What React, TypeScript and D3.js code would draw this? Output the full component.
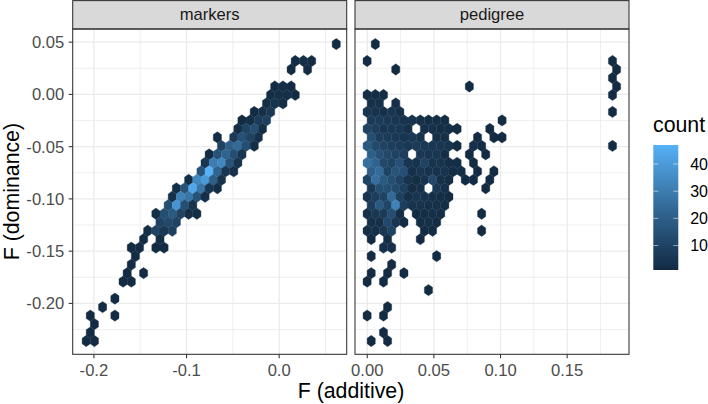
import React from "react";
import * as d3 from "d3";

type Bin = [number, number, number]; // hexbin row, hexbin column, count

const markerBins: Bin[] = [
  [0, 30, 1],
  [2, 25, 1], [2, 26, 2], [2, 27, 1],
  [3, 25, 1], [3, 27, 1],
  [5, 23, 1], [5, 24, 2], [5, 25, 1],
  [6, 22, 2], [6, 23, 3], [6, 24, 3], [6, 25, 1],
  [7, 22, 2], [7, 23, 4], [7, 24, 2],
  [8, 20, 1], [8, 21, 3], [8, 22, 6],
  [9, 19, 1], [9, 20, 2], [9, 21, 7], [9, 22, 9],
  [10, 18, 2], [10, 19, 10], [10, 20, 14], [10, 21, 2],
  [11, 16, 1], [11, 18, 7], [11, 19, 15], [11, 20, 10], [11, 21, 3],
  [12, 16, 10], [12, 17, 20], [12, 18, 24], [12, 19, 14], [12, 20, 2],
  [13, 15, 1], [13, 16, 16], [13, 17, 22], [13, 18, 14], [13, 19, 5],
  [14, 14, 5], [14, 15, 30], [14, 16, 34], [14, 17, 16], [14, 18, 4],
  [15, 14, 16], [15, 15, 47], [15, 16, 22], [15, 17, 5], [15, 18, 3],
  [16, 12, 2], [16, 13, 34], [16, 14, 40], [16, 15, 20], [16, 16, 4],
  [17, 11, 2], [17, 12, 16], [17, 13, 44], [17, 14, 28], [17, 15, 5], [17, 16, 2],
  [18, 10, 3], [18, 11, 32], [18, 12, 28], [18, 13, 16], [18, 14, 3],
  [19, 10, 14], [19, 11, 38], [19, 12, 14], [19, 13, 4],
  [20, 8, 2], [20, 9, 14], [20, 10, 18], [20, 11, 10], [20, 12, 2], [20, 13, 2],
  [21, 9, 10], [21, 10, 12], [21, 11, 10],
  [22, 7, 2], [22, 8, 10], [22, 9, 6], [22, 10, 9],
  [23, 7, 1], [23, 9, 2],
  [24, 5, 1], [24, 6, 1], [24, 8, 1], [24, 9, 1],
  [25, 6, 1],
  [26, 5, 1],
  [27, 5, 1], [27, 7, 1],
  [28, 4, 1], [28, 5, 1],
  [30, 3, 1],
  [31, 2, 1],
  [32, 0, 1], [32, 3, 1],
  [33, 1, 1],
  [34, 0, 1],
  [35, 0, 1], [35, 1, 1],
];

const pedigreeBins: Bin[] = [
  [0, 1, 1],
  [2, 0, 1], [2, 30, 1],
  [3, 3, 1], [3, 30, 1],
  [4, 30, 1],
  [5, 12, 1], [5, 30, 1],
  [6, 0, 2], [6, 1, 2], [6, 2, 2], [6, 30, 1],
  [7, 0, 3], [7, 1, 3], [7, 3, 3],
  [8, 0, 5], [8, 1, 4], [8, 2, 3], [8, 3, 5], [8, 4, 3], [8, 30, 1],
  [9, 0, 7], [9, 1, 7], [9, 2, 6], [9, 3, 5], [9, 4, 4], [9, 5, 4], [9, 6, 3], [9, 7, 2], [9, 8, 2], [9, 9, 2], [9, 16, 1],
  [10, 0, 10], [10, 1, 8], [10, 2, 5], [10, 3, 6], [10, 4, 6], [10, 5, 3], [10, 7, 3], [10, 8, 3], [10, 9, 2], [10, 10, 2], [10, 11, 1], [10, 15, 1],
  [11, 0, 14], [11, 1, 8], [11, 2, 7], [11, 3, 6], [11, 4, 5], [11, 5, 6], [11, 6, 4], [11, 8, 3], [11, 9, 3], [11, 13, 1], [11, 15, 1], [11, 16, 1],
  [12, 0, 18], [12, 1, 12], [12, 2, 10], [12, 3, 8], [12, 4, 7], [12, 5, 6], [12, 6, 7], [12, 7, 6], [12, 8, 5], [12, 9, 5], [12, 10, 4], [12, 11, 1], [12, 13, 3], [12, 14, 1], [12, 30, 1],
  [13, 0, 20], [13, 1, 15], [13, 2, 12], [13, 3, 10], [13, 4, 8], [13, 6, 6], [13, 7, 5], [13, 8, 5], [13, 9, 2], [13, 12, 1], [13, 14, 1],
  [14, 0, 26], [14, 1, 22], [14, 2, 12], [14, 3, 10], [14, 4, 15], [14, 5, 5], [14, 6, 4], [14, 7, 10], [14, 8, 4], [14, 9, 4], [14, 10, 2], [14, 11, 2], [14, 13, 1],
  [15, 0, 20], [15, 1, 24], [15, 2, 10], [15, 3, 16], [15, 4, 14], [15, 5, 3], [15, 6, 5], [15, 7, 4], [15, 8, 4], [15, 9, 4], [15, 10, 2], [15, 11, 2], [15, 13, 1], [15, 15, 1],
  [16, 0, 10], [16, 1, 26], [16, 2, 18], [16, 3, 14], [16, 4, 10], [16, 5, 4], [16, 6, 2], [16, 7, 4], [16, 8, 12], [16, 9, 3], [16, 10, 2], [16, 12, 1], [16, 13, 1], [16, 15, 1],
  [17, 0, 6], [17, 1, 14], [17, 2, 14], [17, 3, 13], [17, 4, 9], [17, 5, 2], [17, 6, 3], [17, 8, 6], [17, 9, 3], [17, 14, 1],
  [18, 0, 4], [18, 1, 8], [18, 2, 10], [18, 3, 24], [18, 4, 9], [18, 5, 3], [18, 6, 5], [18, 7, 4], [18, 8, 3], [18, 9, 2], [18, 10, 1],
  [19, 0, 8], [19, 1, 18], [19, 2, 11], [19, 3, 32], [19, 4, 8], [19, 5, 4], [19, 6, 4], [19, 7, 3], [19, 8, 3], [19, 9, 2],
  [20, 0, 3], [20, 1, 6], [20, 2, 7], [20, 3, 14], [20, 4, 2], [20, 6, 1], [20, 7, 2], [20, 8, 3], [20, 9, 2], [20, 14, 1],
  [21, 0, 3], [21, 1, 3], [21, 2, 12], [21, 3, 5], [21, 4, 1], [21, 6, 2], [21, 7, 3], [21, 8, 1],
  [22, 0, 3], [22, 1, 3], [22, 2, 5], [22, 3, 10], [22, 7, 1], [22, 8, 1], [22, 14, 1],
  [23, 0, 1], [23, 2, 2], [23, 6, 1],
  [24, 2, 3], [24, 3, 3],
  [25, 0, 1], [25, 8, 1],
  [26, 3, 1],
  [27, 0, 1], [27, 2, 1], [27, 4, 1],
  [28, 0, 1], [28, 2, 1],
  [29, 7, 1],
  [31, 2, 1],
  [32, 0, 1], [32, 2, 1],
  [34, 2, 1],
  [35, 0, 1], [35, 2, 1],
];

const yTicks = [0.05, 0, -0.05, -0.1, -0.15, -0.2];
const yMinor = [0.025, -0.025, -0.075, -0.125, -0.175, -0.225];
const markerXTicks = [-0.2, -0.1, 0];
const markerXMinor = [-0.15, -0.05, 0.05];
const pedigreeXTicks = [0, 0.05, 0.1, 0.15];
const pedigreeXMinor = [0.025, 0.075, 0.125, 0.175];
const legendTicks = [10, 20, 30, 40];

const font = "'Liberation Sans', Arial, sans-serif";
const panelTop = 29;
const panelBottom = 354.3;

const y = d3.scaleLinear().domain([-0.2487, 0.0626]).range([panelBottom, panelTop]);
const xMarkers = d3.scaleLinear().domain([-0.2229, 0.0729]).range([72.7, 346.7]);
const xPedigree = d3.scaleLinear().domain([-0.0092, 0.1964]).range([355, 629]);

const fill = d3
  .scaleLinear<string>()
  .domain([1, 47])
  .range(["#132B43", "#56B1F7"])
  .interpolate(d3.interpolateLab);
const legendY = d3.scaleLinear().domain([1, 47]).range([270, 145]);

const binHeight = 0.00812;

function Panel(props: {
  name: string;
  x: d3.ScaleLinear<number, number>;
  bins: Bin[];
  x0: number;
  binWidth: number;
  oddShift: number;
  ticks: number[];
  minor: number[];
  fmt: string;
}) {
  const { name, x, bins, x0, binWidth, oddShift, ticks, minor, fmt } = props;
  const [left, right] = x.range();
  const line = d3.line<[number, number]>().x((d) => x(d[0])).y((d) => y(d[1]));
  const hex = (row: number, col: number) => {
    const cx = x0 + binWidth * (col + (row % 2 ? oddShift : 0));
    const cy = 0.0482 - binHeight * row;
    const w = binWidth / 2;
    const h = binHeight / 3;
    const pts: [number, number][] = [
      [cx, cy + 2 * h],
      [cx + w, cy + h],
      [cx + w, cy - h],
      [cx, cy - 2 * h],
      [cx - w, cy - h],
      [cx - w, cy + h],
    ];
    return line(pts) + "Z";
  };
  const format = d3.format(fmt);
  return (
    <g>
      {yMinor.map((v) => (
        <line key={v} x1={left} x2={right} y1={y(v)} y2={y(v)} stroke="#EBEBEB" strokeWidth={0.8} />
      ))}
      {minor.map((v) => (
        <line key={v} x1={x(v)} x2={x(v)} y1={panelTop} y2={panelBottom} stroke="#EBEBEB" strokeWidth={0.8} />
      ))}
      {yTicks.map((v) => (
        <line key={v} x1={left} x2={right} y1={y(v)} y2={y(v)} stroke="#EBEBEB" strokeWidth={1.3} />
      ))}
      {ticks.map((v) => (
        <line key={v} x1={x(v)} x2={x(v)} y1={panelTop} y2={panelBottom} stroke="#EBEBEB" strokeWidth={1.3} />
      ))}
      {bins.map(([row, col, n]) => (
        <path key={row + "-" + col} d={hex(row, col)} fill={fill(n)} stroke={fill(n)} strokeWidth={0.35} />
      ))}
      <rect x={left} y={0.6} width={right - left} height={panelTop - 0.6} fill="#D9D9D9" stroke="#333333" strokeWidth={1.07} />
      <text x={(left + right) / 2} y={20.3} textAnchor="middle" fontSize={16.6} fill="#1A1A1A">
        {name}
      </text>
      <rect x={left} y={panelTop} width={right - left} height={panelBottom - panelTop} fill="none" stroke="#333333" strokeWidth={1.07} />
      {ticks.map((v) => (
        <g key={v}>
          <line x1={x(v)} x2={x(v)} y1={panelBottom} y2={panelBottom + 4} stroke="#333333" strokeWidth={1.07} />
          <text x={x(v)} y={375.6} textAnchor="middle" fontSize={16.6} fill="#4D4D4D">
            {format(v).replace("\u2212", "-")}
          </text>
        </g>
      ))}
    </g>
  );
}

export default function App() {
  const gradientStops = d3.range(0, 11).map((i) => i / 10);
  return (
    <svg
      width={708}
      height={404}
      viewBox="0 0 708 404"
      style={{ position: "absolute", left: 0, top: 0, background: "#fff" }}
      fontFamily={font}
    >
      <defs>
        <linearGradient id="countBar" x1="0" y1="1" x2="0" y2="0">
          {gradientStops.map((t) => (
            <stop key={t} offset={t} stopColor={fill(1 + 46 * t)} />
          ))}
        </linearGradient>
      </defs>

      <Panel
        name="markers"
        x={xMarkers}
        bins={markerBins}
        x0={-0.2039}
        binWidth={0.00885}
        oddShift={-0.5}
        ticks={markerXTicks}
        minor={markerXMinor}
        fmt=".1f"
      />
      <Panel
        name="pedigree"
        x={xPedigree}
        bins={pedigreeBins}
        x0={-0.0001}
        binWidth={0.006137}
        oddShift={0.5}
        ticks={pedigreeXTicks}
        minor={pedigreeXMinor}
        fmt=".2f"
      />

      {yTicks.map((v) => (
        <g key={v}>
          <line x1={68.7} x2={72.7} y1={y(v)} y2={y(v)} stroke="#333333" strokeWidth={1.07} />
          <text x={64.2} y={y(v) + 5.9} textAnchor="end" fontSize={16.6} fill="#4D4D4D">
            {d3.format(".2f")(v).replace("\u2212", "-")}
          </text>
        </g>
      ))}

      <text x={351} y={398} textAnchor="middle" fontSize={21.3} fill="#000">
        F (additive)
      </text>
      <text transform="translate(18.5,191.6) rotate(-90)" textAnchor="middle" fontSize={21.3} fill="#000">
        F (dominance)
      </text>

      <text x={653} y={132} fontSize={21.3} fill="#000">
        count
      </text>
      <rect x={653.3} y={legendY(47)} width={25} height={legendY(1) - legendY(47)} fill="url(#countBar)" />
      {legendTicks.map((v) => (
        <g key={v}>
          <line x1={653.3} x2={658.3} y1={legendY(v)} y2={legendY(v)} stroke="#fff" strokeWidth={0.55} />
          <line x1={673.3} x2={678.3} y1={legendY(v)} y2={legendY(v)} stroke="#fff" strokeWidth={0.55} />
          <text x={708} y={legendY(v) + 5.7} textAnchor="end" fontSize={16} fill="#000">
            {v}
          </text>
        </g>
      ))}
    </svg>
  );
}
